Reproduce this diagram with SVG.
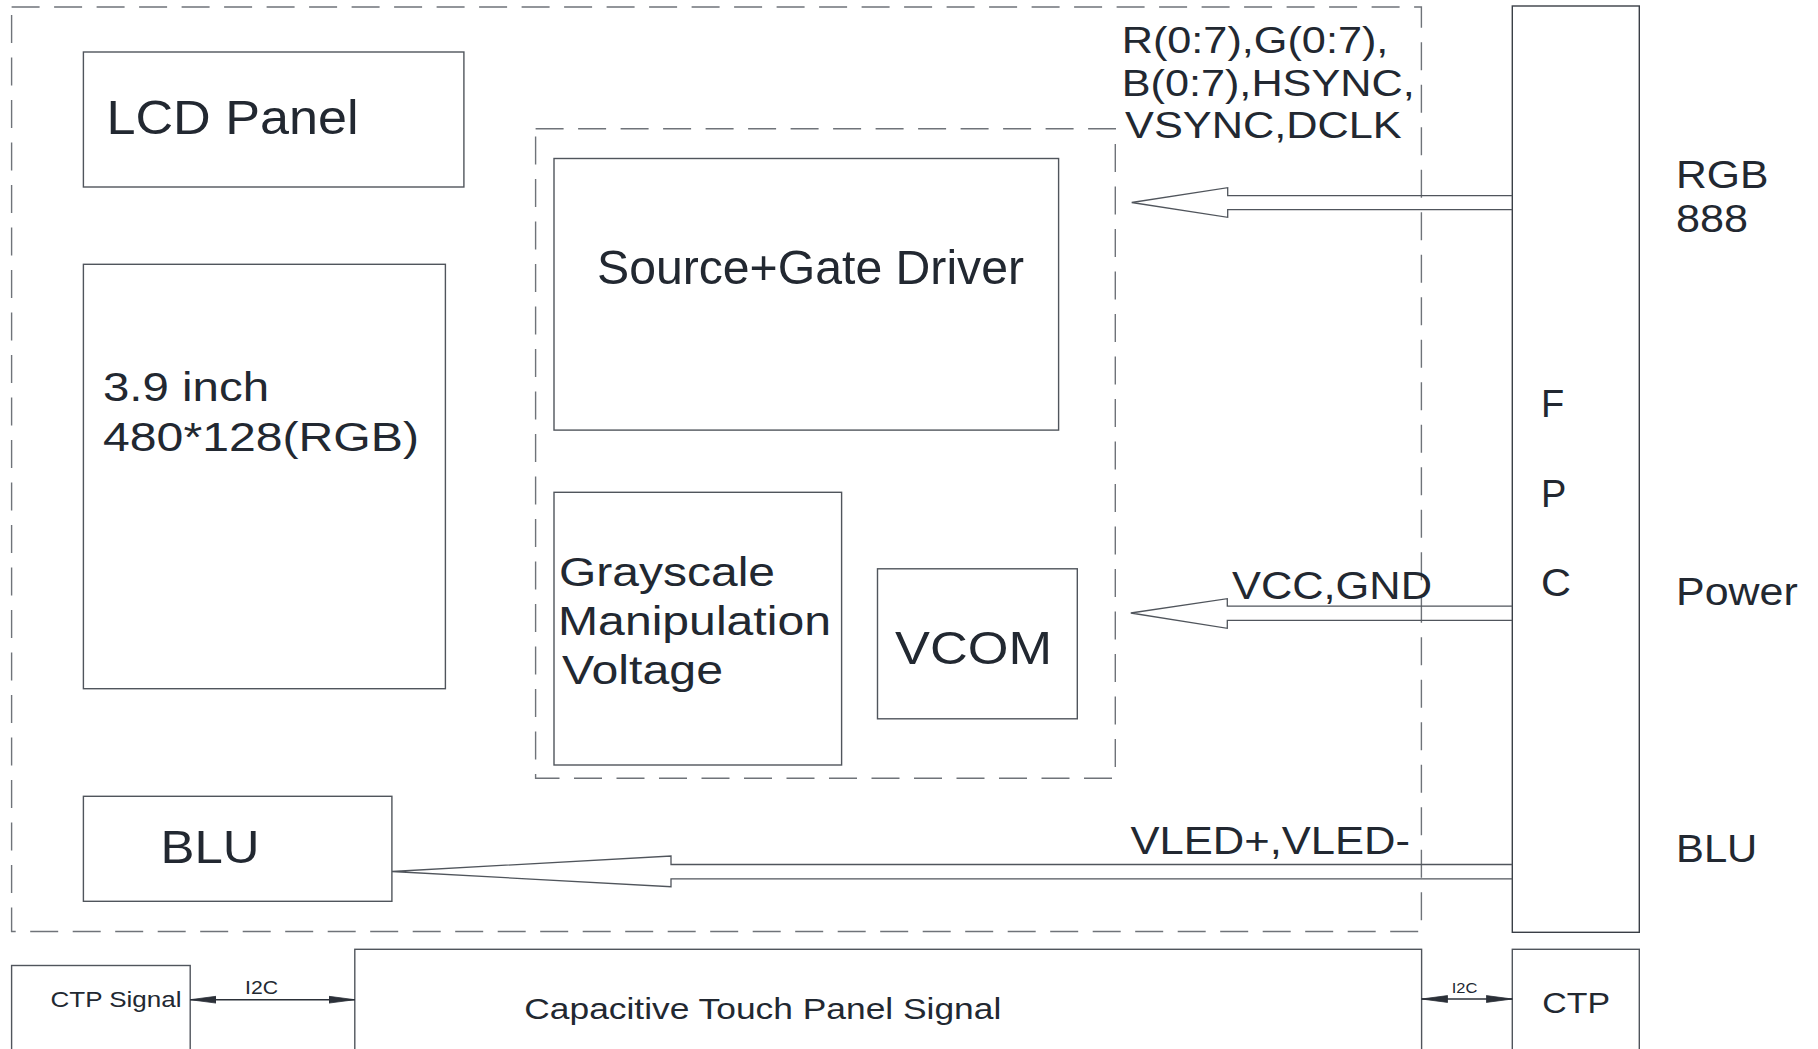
<svg xmlns="http://www.w3.org/2000/svg" width="1818" height="1049" viewBox="0 0 1818 1049">
  <style>
    .box { fill: none; stroke: #50555c; stroke-width: 1.4; }
    .dash { fill: none; stroke: #6f7379; stroke-width: 1.4; stroke-dasharray: 28 14.5; }
    .wide { fill: none; stroke: #50555c; stroke-width: 1.3; stroke-linejoin: miter; }
    .i2c { fill: none; stroke: #2b3038; stroke-width: 1.4; marker-start: url(#head); marker-end: url(#head); }
    text { font-family: "Liberation Sans", Arial, sans-serif; fill: #222831; }
  </style>
  <defs>
    <marker id="head" markerUnits="userSpaceOnUse" markerWidth="27" markerHeight="9" viewBox="0 -4.5 27 9" refX="26" refY="0" orient="auto-start-reverse">
      <path d="M0,-3.4 L26,0 L0,3.4 Z" fill="#2b3038" stroke="#2b3038" stroke-width="0.8"/>
    </marker>
  </defs>
  <rect width="1818" height="1049" fill="#ffffff"/>

  <!-- module outline and driver IC outline -->
  <g id="module-frame">
    <rect class="dash" x="11.6" y="7" width="1409.8" height="924.5"/>
  </g>
  <g id="driver-ic-frame">
    <rect class="dash" x="535.6" y="128.7" width="579.7" height="649.5"/>
  </g>

  <g id="lcd-panel">
    <rect class="box" x="83.4" y="52" width="380.5" height="135"/>
    <text x="106.5" y="134" font-size="48" textLength="252" lengthAdjust="spacingAndGlyphs">LCD Panel</text>
  </g>

  <g id="panel-size">
    <rect class="box" x="83.4" y="264.3" width="362" height="424.4"/>
    <text x="103" y="401" font-size="41" textLength="166" lengthAdjust="spacingAndGlyphs">3.9 inch</text>
    <text x="103" y="451" font-size="41" textLength="316" lengthAdjust="spacingAndGlyphs">480*128(RGB)</text>
  </g>

  <g id="source-gate-driver">
    <rect class="box" x="554" y="158.5" width="504.6" height="271.6"/>
    <text x="597" y="283.5" font-size="49" textLength="427" lengthAdjust="spacingAndGlyphs">Source+Gate Driver</text>
  </g>

  <g id="grayscale-voltage">
    <rect class="box" x="554" y="492.3" width="287.6" height="272.7"/>
    <text x="559" y="585.5" font-size="40" textLength="216" lengthAdjust="spacingAndGlyphs">Grayscale</text>
    <text x="558" y="634.5" font-size="40" textLength="273" lengthAdjust="spacingAndGlyphs">Manipulation</text>
    <text x="562" y="683.5" font-size="40" textLength="161" lengthAdjust="spacingAndGlyphs">Voltage</text>
  </g>

  <g id="vcom">
    <rect class="box" x="877.5" y="568.8" width="199.8" height="150"/>
    <text x="895" y="664.3" font-size="47" textLength="157" lengthAdjust="spacingAndGlyphs">VCOM</text>
  </g>

  <g id="backlight-unit">
    <rect class="box" x="83.4" y="796.3" width="308.5" height="105"/>
    <text x="160.5" y="862.5" font-size="46" textLength="99" lengthAdjust="spacingAndGlyphs">BLU</text>
  </g>

  <g id="fpc">
    <rect class="box" x="1512.3" y="6" width="127" height="926.3" style="stroke:#3a3f46"/>
    <text x="1541" y="417.4" font-size="38">F</text>
    <text x="1541" y="506.7" font-size="38">P</text>
    <text x="1541" y="595.5" font-size="38" textLength="30" lengthAdjust="spacingAndGlyphs">C</text>
  </g>

  <g id="ctp-signal">
    <rect class="box" x="11.6" y="965.5" width="178.6" height="100"/>
    <text x="50.5" y="1006.7" font-size="22" textLength="131" lengthAdjust="spacingAndGlyphs">CTP Signal</text>
  </g>

  <g id="touch-panel-signal">
    <rect class="box" x="354.8" y="949.3" width="1066.8" height="120"/>
    <text x="524.3" y="1019" font-size="30" textLength="477" lengthAdjust="spacingAndGlyphs">Capacitive Touch Panel Signal</text>
  </g>

  <g id="ctp">
    <rect class="box" x="1512.3" y="949.3" width="127" height="120"/>
    <text x="1542.3" y="1013.3" font-size="29" textLength="67.7" lengthAdjust="spacingAndGlyphs">CTP</text>
  </g>

  <!-- interface names beside the FPC -->
  <g id="fpc-interfaces">
    <text x="1676" y="187.5" font-size="38" textLength="92.5" lengthAdjust="spacingAndGlyphs">RGB</text>
    <text x="1676" y="231.5" font-size="38" textLength="72" lengthAdjust="spacingAndGlyphs">888</text>
    <text x="1676" y="605" font-size="38" textLength="121.7" lengthAdjust="spacingAndGlyphs">Power</text>
    <text x="1676" y="862" font-size="38" textLength="81.3" lengthAdjust="spacingAndGlyphs">BLU</text>
  </g>

  <g id="connectors">
    <!-- RGB bus -->
    <polyline class="wide" points="1512.3,195.7 1227.7,195.7 1227.7,187.7 1131.7,202.5 1227.7,217.3 1227.7,209.7 1512.3,209.7"/>
    <text x="1121.7" y="53.3" font-size="37" textLength="266.7" lengthAdjust="spacingAndGlyphs">R(0:7),G(0:7),</text>
    <text x="1121.7" y="95.7" font-size="37" textLength="293" lengthAdjust="spacingAndGlyphs">B(0:7),HSYNC,</text>
    <text x="1125" y="138.3" font-size="37" textLength="276.7" lengthAdjust="spacingAndGlyphs">VSYNC,DCLK</text>

    <!-- power -->
    <polyline class="wide" points="1512.3,606.2 1227.3,606.2 1227.3,598.7 1130.8,613 1227.3,628.3 1227.3,620.3 1512.3,620.3"/>
    <text x="1232" y="599" font-size="39" textLength="200" lengthAdjust="spacingAndGlyphs">VCC,GND</text>

    <!-- backlight supply -->
    <polyline class="wide" points="1512.3,864.5 671,864.5 671,856 392,871.5 671,886.7 671,878.8 1512.3,878.8"/>
    <text x="1130.5" y="854" font-size="39" textLength="279.5" lengthAdjust="spacingAndGlyphs">VLED+,VLED-</text>

    <!-- I2C links -->
    <line class="i2c" x1="190.2" y1="999.7" x2="354.8" y2="999.7"/>
    <text x="245" y="994" font-size="18" textLength="33" lengthAdjust="spacingAndGlyphs">I2C</text>
    <line class="i2c" x1="1421.6" y1="999" x2="1512.3" y2="999"/>
    <text x="1451.7" y="993.3" font-size="15.5" textLength="25.6" lengthAdjust="spacingAndGlyphs">I2C</text>
  </g>
</svg>
